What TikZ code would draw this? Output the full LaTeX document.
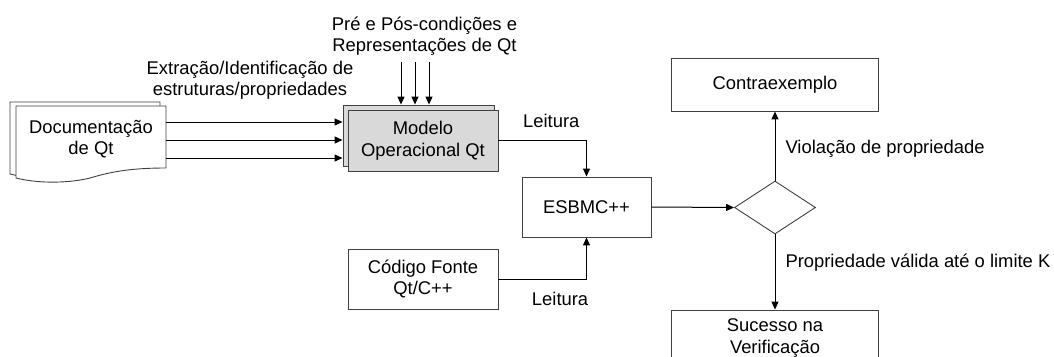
\documentclass[tikz,border=0pt]{standalone}
\usepackage{fontspec}
\setmainfont{Liberation Sans}
\usetikzlibrary{shapes.geometric,arrows.meta}
\tikzstyle{line} = [draw, line width=1pt, -{Triangle[length=8pt,width=7pt]}]
\tikzstyle{block} = [draw=black!75, line width=0.9pt, rectangle, align=center, inner sep=0pt]
\tikzstyle{lbl} = [inner sep=0pt, align=center]

\begin{document}
\begin{tikzpicture}
  [x=1pt,y=-1pt,every node/.style={font=\fontsize{18.4}{21.5}\selectfont}]
  \clip (0,0) rectangle (1054,356);
  % pilha de folhas da documentacao
  \path [draw=black!75, line width=0.9pt, fill=white] (10,102) -- (160,102) -- (160,164)
    .. controls (124,164) and (104,168) .. (84,174) .. controls (64,179) and (34,180) .. (10,174) -- cycle;
  \path [draw=black!75, line width=0.9pt, fill=white] (16,106) -- (166,106) -- (166,168)
    .. controls (130,168) and (110,172) .. (90,178) .. controls (70,183) and (40,184) .. (16,178) -- cycle;
  \node (doc) [lbl, minimum width=150pt, minimum height=70pt] at (91,139) {Documentação\\de Qt};

  \node (modeloback) [block, fill=gray!30, minimum width=151pt, minimum height=61pt] at (418.5,135.5) {};
  \node (modelo) [block, fill=gray!30, minimum width=150pt, minimum height=61pt] at (423,140.5) {Modelo\\Operacional Qt};
  \node (esbmc) [block, minimum width=129pt, minimum height=60pt] at (586.5,207) {ESBMC++};
  \node (codigo) [block, minimum width=150pt, minimum height=60pt] at (423,279) {Código Fonte\\Qt/C++};
  \node (dec) [diamond, draw=black!75, line width=0.9pt, minimum width=81pt, minimum height=53pt, inner sep=0pt] at (775,207.5) {};
  \node (contra) [block, minimum width=207pt, minimum height=53pt] at (775,84.5) {Contraexemplo};
  \node (sucesso) [block, minimum width=207pt, minimum height=56pt] at (775,338) {Sucesso na\\Verificação};

  \node (extr) [lbl] at (250,80) {Extração/Identificação de\\estruturas/propriedades};
  \node (pre) [lbl] at (424.5,36) {Pré e Pós-condições e\\Representações de Qt};
  \coordinate (prein) at (415,62);

  \path [line] ([yshift=17pt]doc.east) -- ([yshift=17pt]doc.east -| modeloback.west);
  \path [line] ([yshift=-1pt]doc.east) -- ([yshift=-1pt]doc.east -| modeloback.west);
  \path [line] ([yshift=-19pt]doc.east) -- ([yshift=-19pt]doc.east -| modeloback.west);

  \path [line] ([xshift=-14pt]prein) -- ([xshift=-14pt]prein |- modeloback.north);
  \path [line] (prein) -- (prein |- modeloback.north);
  \path [line] ([xshift=14pt]prein) -- ([xshift=14pt]prein |- modeloback.north);

  \path [line] (modelo.east) -| node[lbl, pos=0.3, above=12pt] {Leitura} (esbmc.north);
  \path [line] (codigo.east) -| node[lbl, pos=0.35, below=13pt] {Leitura} (esbmc.south);
  \path [line] (esbmc.east) -- (dec.west);
  \path [line] (dec.north) -- node[lbl, pos=0.46, right=10pt] {Violação de propriedade} (contra.south);
  \path [line] (dec.south) -- node[lbl, pos=0.38, right=10pt] {Propriedade válida até o limite K} (sucesso.north);

\end{tikzpicture}
\end{document}
